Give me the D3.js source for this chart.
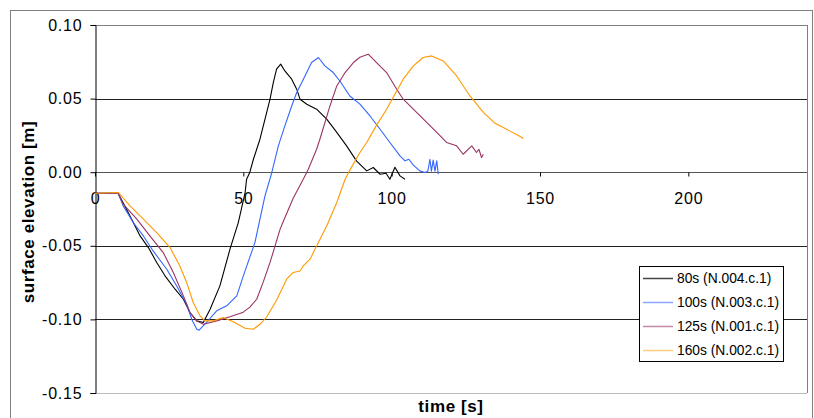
<!DOCTYPE html>
<html>
<head>
<meta charset="utf-8">
<script src="https://cdn.jsdelivr.net/npm/d3@7/dist/d3.min.js"></script>
<style>
html,body{margin:0;padding:0;background:#fff;}
svg{display:block;}
text{font-family:"Liberation Sans",Arial,sans-serif;}
</style>
</head>
<body>
<svg id="chart" width="814" height="418"></svg>
<script>
// ---- data (time [s], surface elevation [m]) ----
const seriesNames = ["80s (N.004.c.1)", "100s (N.003.c.1)", "125s (N.001.c.1)", "160s (N.002.c.1)"];
const seriesColors = ["#000000", "#3366ff", "#993366", "#ff9900"];
const legendColors = ["#444444", "#8aa6ff", "#c48aa6", "#ffcc80"];
const xTicks = [0, 50, 100, 150, 200];
const yTicks = [0.10, 0.05, 0.00, -0.05, -0.10, -0.15];

const s80 = [
 [0,-0.0143],[7.8,-0.0143],[11.8,-0.0297],[15.2,-0.0433],[18.0,-0.0512],[20.8,-0.0613],
 [23.6,-0.0704],[27.0,-0.0795],[29.8,-0.0863],[32.0,-0.0953],[34.3,-0.1010],[36.5,-0.1021],
 [38.8,-0.0931],[42.1,-0.0772],[45.5,-0.0523],[48.3,-0.0342],[50.6,-0.0138],[51.1,-0.0048],
 [52.2,0.0000],[53.4,0.0088],[55.6,0.0224],[57.3,0.0360],[59.0,0.0496],[60.1,0.0609],
 [61.2,0.0700],[62.6,0.0734],[64.0,0.0688],[66.3,0.0632],[68.0,0.0564],[69.1,0.0496],
 [71.4,0.0462],[74.7,0.0428],[78.1,0.0360],[81.5,0.0270],[84.8,0.0179],[88.2,0.0075],
 [91.6,0.0009],[93.8,0.0032],[96.1,-0.0014],[98.1,-0.0007],[99.4,-0.0048],[101.1,0.0034],
 [102.8,-0.0025],[104.5,-0.0048]
];
const s100 = [
 [0,-0.0143],[7.8,-0.0143],[9.5,-0.0229],[12.9,-0.0342],[16.3,-0.0433],[19.6,-0.0535],
 [24.2,-0.0659],[27.5,-0.0772],[30.9,-0.0897],[32.6,-0.0999],[34.3,-0.1067],[35.1,-0.1073],
 [37.6,-0.1021],[41.0,-0.0942],[44.4,-0.0908],[47.8,-0.0840],[50.0,-0.0704],[52.2,-0.0577],
 [53.9,-0.0478],[55.6,-0.0319],[57.3,-0.0161],[59.6,-0.0002],[61.8,0.0179],[64.0,0.0315],
 [66.3,0.0450],[68.0,0.0541],[69.7,0.0609],[71.9,0.0700],[73.0,0.0745],[75.3,0.0779],
 [77.5,0.0722],[80.3,0.0677],[82.6,0.0618],[85.9,0.0518],[89.3,0.0462],[92.7,0.0382],
 [96.1,0.0292],[99.4,0.0202],[102.8,0.0111],[104.5,0.0077],[105.8,0.0088],[107.3,0.0048],
 [109.5,0.0009],[111.2,-0.0002],[112.2,0.0007],[112.9,0.0088],[113.4,0.0007],[114.0,0.0082],
 [114.6,0.0007],[115.2,0.0077],[115.7,-0.0014]
];
const s125 = [
 [0,-0.0143],[7.8,-0.0143],[9.5,-0.0217],[14.1,-0.0319],[18.5,-0.0433],[23.0,-0.0546],
 [26.4,-0.0681],[29.8,-0.0840],[32.0,-0.0953],[34.3,-0.1010],[36.5,-0.1033],[41.0,-0.1010],
 [45.5,-0.0982],[50.0,-0.0951],[52.2,-0.0917],[54.5,-0.0863],[56.7,-0.0747],[59.0,-0.0613],
 [60.7,-0.0501],[62.4,-0.0387],[63.5,-0.0333],[66.8,-0.0177],[70.2,-0.0048],[71.9,0.0020],
 [74.7,0.0156],[75.8,0.0224],[79.2,0.0450],[81.5,0.0586],[84.3,0.0677],[87.1,0.0745],
 [89.3,0.0781],[92.1,0.0802],[94.9,0.0745],[98.3,0.0677],[101.7,0.0564],[103.9,0.0496],
 [107.3,0.0428],[111.8,0.0338],[115.2,0.0270],[118.5,0.0202],[121.9,0.0179],[124.1,0.0122],
 [127.0,0.0179],[128.6,0.0134],[129.4,0.0156],[130.3,0.0100],[130.9,0.0122]
];
const s160 = [
 [0,-0.0143],[7.9,-0.0138],[11.8,-0.0229],[16.3,-0.0319],[20.8,-0.0410],[25.3,-0.0512],
 [28.6,-0.0637],[30.9,-0.0749],[33.1,-0.0885],[35.4,-0.0976],[37.1,-0.1010],[39.9,-0.1010],
 [43.2,-0.0987],[46.6,-0.1016],[50.6,-0.1060],[53.4,-0.1067],[55.6,-0.1033],[57.9,-0.0982],
 [61.2,-0.0870],[64.6,-0.0727],[66.8,-0.0681],[69.1,-0.0671],[70.2,-0.0637],[72.5,-0.0591],
 [74.7,-0.0501],[78.1,-0.0365],[81.5,-0.0206],[84.3,-0.0048],[85.9,0.0014],[89.3,0.0134],
 [91.6,0.0202],[94.7,0.0313],[98.3,0.0428],[101.1,0.0530],[103.9,0.0632],[107.3,0.0722],
 [110.6,0.0779],[113.5,0.0790],[117.4,0.0756],[121.9,0.0654],[126.4,0.0518],[130.9,0.0406],
 [134.8,0.0333],[136.5,0.0315],[139.9,0.0279],[142.6,0.0251],[144.4,0.0229]
];
const seriesData = [s80, s100, s125, s160];

// ---- layout ----
const svg = d3.select("#chart");
const plot = {left: 95, top: 25, right: 807, bottom: 393};
const x = d3.scaleLinear().domain([0, 240]).range([plot.left, plot.right]);
const y = d3.scaleLinear().domain([-0.15, 0.10]).range([plot.bottom, plot.top]);
const FONT = "'Liberation Sans', Arial, sans-serif";

// outer chart frame
svg.append("rect").attr("x", 10.5).attr("y", 10.5).attr("width", 802).attr("height", 420)
  .attr("fill", "#fff").attr("stroke", "#808080").attr("stroke-width", 1);

// gridlines
svg.append("g").selectAll("line").data(yTicks.filter(d => d > -0.15)).join("line")
  .attr("x1", plot.left).attr("x2", plot.right)
  .attr("y1", d => Math.round(y(d)) + 0.5).attr("y2", d => Math.round(y(d)) + 0.5)
  .attr("stroke", d => (d === 0.10 ? "#808080" : (d === 0 ? "#555" : "#222")))
  .attr("stroke-width", 1);

// plot area right and bottom edges
svg.append("line").attr("x1", plot.right + 0.5).attr("x2", plot.right + 0.5)
  .attr("y1", plot.top).attr("y2", plot.bottom).attr("stroke", "#808080");
svg.append("line").attr("x1", plot.left).attr("x2", plot.right)
  .attr("y1", plot.bottom + 0.5).attr("y2", plot.bottom + 0.5).attr("stroke", "#bbbbbb");

// y axis
const yAxis = d3.axisLeft(y).tickValues(yTicks).tickSize(5).tickPadding(8)
  .tickFormat(d => d.toFixed(2));
const gy = svg.append("g").attr("transform", `translate(${plot.left + 0.5},0)`).call(yAxis);
gy.select(".domain").attr("stroke", "#000");
gy.selectAll(".tick line").attr("stroke", "#000");
gy.selectAll("text").attr("font-size", 16).attr("letter-spacing", "0.8px").attr("fill", "#000")
  .attr("font-family", FONT);

// x axis at y = 0
const xAxis = d3.axisBottom(x).tickValues(xTicks).tickSize(4).tickPadding(16)
  .tickFormat(d => String(d));
const gx = svg.append("g").attr("transform", `translate(0,${Math.round(y(0)) + 0.5})`).call(xAxis);
gx.select(".domain").remove();
gx.selectAll(".tick line").attr("stroke", "#000");
gx.selectAll("text").attr("font-size", 16).attr("letter-spacing", "0.8px").attr("fill", "#000")
  .attr("font-family", FONT);

// series lines
const line = d3.line().x(d => x(d[0])).y(d => y(d[1]));
svg.append("g").selectAll("path").data(seriesData).join("path")
  .attr("d", line)
  .attr("fill", "none")
  .attr("stroke", (d, i) => seriesColors[i])
  .attr("stroke-width", 1.1)
  .attr("stroke-linejoin", "round");

// axis titles
svg.append("text").attr("x", (plot.left + plot.right) / 2).attr("y", 412)
  .attr("text-anchor", "middle").attr("font-size", 17).attr("font-weight", "bold")
  .attr("letter-spacing", "0.6px").text("time [s]");
svg.append("text").attr("transform", `translate(34,${(plot.top + plot.bottom) / 2 + 3}) rotate(-90)`)
  .attr("text-anchor", "middle").attr("font-size", 17).attr("font-weight", "bold")
  .attr("letter-spacing", "0.6px").text("surface elevation [m]");

// legend
const lg = svg.append("g");
lg.append("rect").attr("x", 639.5).attr("y", 266.5).attr("width", 144).attr("height", 95)
  .attr("fill", "#fff").attr("stroke", "#000");
const items = lg.selectAll("g.item").data(seriesNames).join("g").attr("class", "item")
  .attr("transform", (d, i) => `translate(0,${278 + i * 24})`);
items.append("line").attr("x1", 643).attr("x2", 673).attr("y1", 0.5).attr("y2", 0.5)
  .attr("stroke", (d, i) => legendColors[i]).attr("stroke-width", 1.5);
items.append("text").attr("x", 677).attr("y", 0).attr("dy", "0.36em")
  .attr("font-size", 13.8).attr("fill", "#000").text(d => d);
</script>
</body>
</html>
